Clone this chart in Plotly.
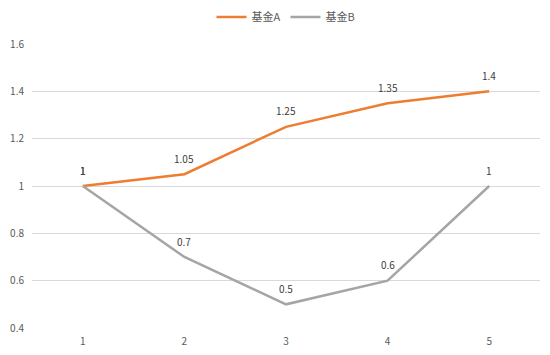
import plotly.graph_objects as go

categories = ["1", "2", "3", "4", "5"]
fund_a = [1, 1.05, 1.25, 1.35, 1.4]
fund_b = [1, 0.7, 0.5, 0.6, 1]
label_a = ["1", "1.05", "1.25", "1.35", "1.4"]
label_b = ["1", "0.7", "0.5", "0.6", "1"]
y_ticks = [0.4, 0.6, 0.8, 1, 1.2, 1.4, 1.6]
y_tick_text = ["0.4", "0.6", "0.8", "1", "1.2", "1.4", "1.6"]

FONT = "Microsoft YaHei, Noto Sans CJK SC, sans-serif"
TXT = "#595959"

fig = go.Figure()
fig.add_trace(go.Scatter(x=categories, y=fund_a, mode="lines", name="基金A",
                         line=dict(color="#ED7D31", width=2.5)))
fig.add_trace(go.Scatter(x=categories, y=fund_b, mode="lines", name="基金B",
                         line=dict(color="#A5A5A5", width=2.5)))

annotations = []
for ys, ls in [(fund_a, label_a), (fund_b, label_b)]:
    for i, (y, l) in enumerate(zip(ys, ls)):
        annotations.append(dict(x=i, y=y, text=l, showarrow=False, yshift=16,
                                font=dict(size=10, color="#404040", family=FONT)))

fig.update_layout(
    width=550, height=355,
    margin=dict(l=24, r=18, t=36, b=35, autoexpand=False),
    paper_bgcolor="white", plot_bgcolor="white",
    font=dict(family=FONT, size=10, color=TXT),
    showlegend=True,
    legend=dict(orientation="h", x=0.5, xanchor="center", y=1.095, yanchor="middle",
                font=dict(size=11, color=TXT), itemwidth=30,
                tracegroupgap=0),
    annotations=annotations,
    xaxis=dict(type="category", range=[-0.5, 4.5], showgrid=False, showline=False,
               zeroline=False, ticks="", ticklabelstandoff=6,
               tickfont=dict(size=10, color=TXT)),
    yaxis=dict(range=[0.4, 1.6], tickvals=y_ticks, ticktext=y_tick_text,
               showgrid=True, gridcolor="#D9D9D9", gridwidth=1, zeroline=False,
               showline=False, ticks="", ticklabelstandoff=7,
               tickfont=dict(size=10, color=TXT)),
)
fig.write_html("out.html")
